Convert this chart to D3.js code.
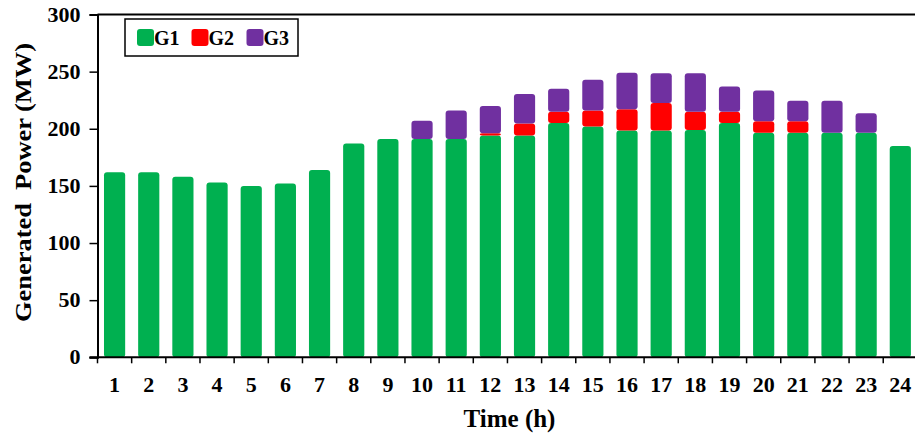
<!DOCTYPE html>
<html>
<head>
<meta charset="utf-8">
<script src="https://cdn.jsdelivr.net/npm/d3@7"></script>
<style>
  body { margin: 0; background: #fff; }
  svg text { font-family: "Liberation Serif", "Times New Roman", serif; font-weight: 700; fill: #000; }
</style>
</head>
<body>
<div id="chart"></div>
<script>
// hourly generation
const hours = d3.range(1, 25).map(String);
const g1 = [162, 162, 158, 153, 150, 152, 164, 187, 191, 191, 191, 194,
            194, 205, 202, 198.5, 198.5, 199, 205, 196.5, 196.5, 196.5, 196.5, 185];
const g2 = [0, 0, 0, 0, 0, 0, 0, 0, 0, 0, 0, 2,
            10.5, 10, 14, 18.5, 24, 16, 10, 10, 10, 0, 0, 0];
const g3 = [0, 0, 0, 0, 0, 0, 0, 0, 0, 16, 25, 24,
            26, 20, 27, 32, 26, 33.5, 22, 27, 18, 28, 17, 0];
const yTicks = [0, 50, 100, 150, 200, 250, 300];
const series = ['G1', 'G2', 'G3'];
const colors = ['#00b050', '#ff0000', '#7030a0'];

const w = 915, h = 437;
const pLeft = 97.5, pTop = 14.5, pBottom = 357.3, pRight = 917.4;

const svg = d3.select('#chart').append('svg').attr('width', w).attr('height', h);

const x = d3.scaleBand().domain(hours).range([pLeft, pRight]).paddingInner(0.38).paddingOuter(0.19);
const y = d3.scaleLinear().domain([0, 300]).range([pBottom, pTop]);

const rows = hours.map((hr, i) => ({ hour: hr, G1: g1[i], G2: g2[i], G3: g3[i] }));
const stacked = d3.stack().keys(series)(rows);

svg.selectAll('g.layer')
  .data(stacked)
  .enter().append('g')
  .attr('class', 'layer')
  .attr('fill', (d, i) => colors[i])
  .selectAll('rect')
  .data(d => d.filter(p => p[1] - p[0] > 0))
  .enter().append('rect')
  .attr('x', d => x(d.data.hour))
  .attr('width', x.bandwidth())
  .attr('y', d => y(d[1]))
  .attr('height', d => y(d[0]) - y(d[1]))
  .attr('rx', 3).attr('ry', 3);

// frame top + right
svg.append('line').attr('x1', pLeft).attr('x2', pRight).attr('y1', pTop).attr('y2', pTop)
  .attr('stroke', '#000').attr('stroke-width', 2);
svg.append('line').attr('x1', pRight).attr('x2', pRight).attr('y1', pTop).attr('y2', pBottom)
  .attr('stroke', '#000').attr('stroke-width', 2);

// y axis
const yAxis = svg.append('g').attr('transform', 'translate(' + pLeft + ',0)')
  .call(d3.axisLeft(y).tickValues(yTicks).tickSize(8).tickPadding(9));
yAxis.select('.domain').attr('stroke-width', 2);
yAxis.selectAll('.tick line').attr('stroke-width', 1.5);
yAxis.selectAll('text').style('font-size', '22px').attr('dy', '0.3em');

// x axis: ticks on band edges, labels in band centres
const step = x.step();
const edges = d3.range(0, 25).map(i => pLeft + i * step);
svg.append('line').attr('x1', pLeft - 8).attr('x2', pRight).attr('y1', pBottom).attr('y2', pBottom)
  .attr('stroke', '#000').attr('stroke-width', 2);
svg.selectAll('line.xt').data(edges).enter().append('line')
  .attr('class', 'xt')
  .attr('x1', d => d).attr('x2', d => d)
  .attr('y1', pBottom).attr('y2', pBottom + 6)
  .attr('stroke', '#000').attr('stroke-width', 1.5);
svg.selectAll('text.xl').data(hours).enter().append('text')
  .attr('class', 'xl')
  .attr('x', d => x(d) + x.bandwidth() / 2)
  .attr('y', 392)
  .attr('text-anchor', 'middle')
  .style('font-size', '22px')
  .text(d => d);

// axis titles
svg.append('text')
  .attr('x', 509.5).attr('y', 427)
  .attr('text-anchor', 'middle')
  .style('font-size', '25px')
  .text('Time (h)');
svg.append('text')
  .attr('transform', 'translate(31,182.5) rotate(-90)')
  .attr('text-anchor', 'middle')
  .attr('textLength', 279)
  .attr('lengthAdjust', 'spacingAndGlyphs')
  .style('font-size', '23px')
  .style('white-space', 'pre')
  .text('Generated  Power (MW)');

// legend
const lg = svg.append('g').attr('transform', 'translate(125,19)');
lg.append('rect').attr('width', 173).attr('height', 37)
  .attr('fill', '#fff').attr('stroke', '#000').attr('stroke-width', 1.5);
const lx = [12, 66.5, 121.5];
series.forEach((s, i) => {
  lg.append('rect').attr('x', lx[i]).attr('y', 10).attr('width', 17).attr('height', 17)
    .attr('rx', 3).attr('fill', colors[i]);
  lg.append('text').attr('x', lx[i] + 17).attr('y', 26)
    .style('font-size', '20px').text(s);
});
</script>
</body>
</html>
